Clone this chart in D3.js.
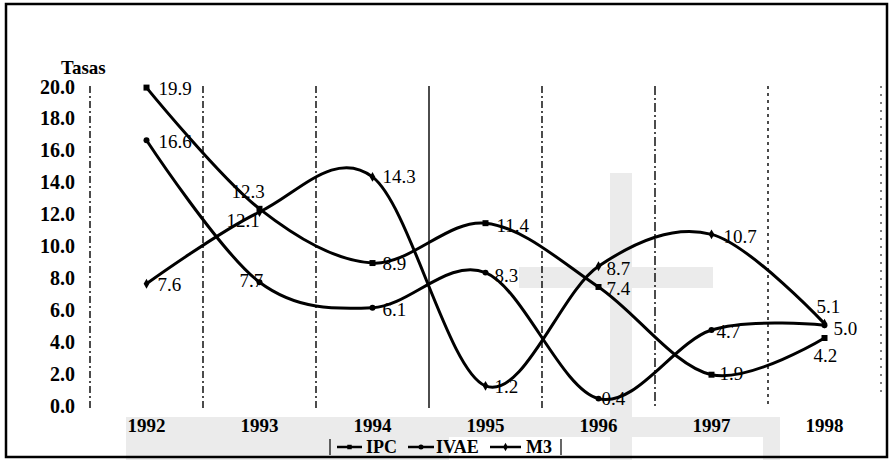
<!DOCTYPE html>
<html>
<head>
<meta charset="utf-8">
<script src="https://cdn.jsdelivr.net/npm/d3@7"></script>
<style>
  html, body { margin: 0; padding: 0; background: #fff; }
  svg { display: block; }
  text { font-family: "Liberation Serif", "Times New Roman", serif; fill: #000; }
</style>
</head>
<body>
<svg id="chart" width="889" height="460"></svg>
<script>
// Annual rates, 1992-1998
const years = ["1992", "1993", "1994", "1995", "1996", "1997", "1998"];
const ipc  = [19.9, 12.3, 8.9, 11.4, 7.4, 1.9, 4.2];
const ivae = [16.6, 7.7, 6.1, 8.3, 0.4, 4.7, 5.0];
const m3   = [7.6, 12.1, 14.3, 1.2, 8.7, 10.7, 5.1];
const seriesNames = ["IPC", "IVAE", "M3"];
const yTicks = [0, 2, 4, 6, 8, 10, 12, 14, 16, 18, 20];

// Label offsets (dx, dy from the point) for each series
const labelOffsets = {
  IPC:  [[12, 7], [-28, -11], [10, 7], [11, 9], [8, 8], [8, 5], [-11, 24]],
  IVAE: [[12, 8], [-20, 5], [10, 8], [9, 9], [3, 6], [5, 8], [9, 10]],
  M3:   [[11, 7], [-33, 15], [10, 6], [9, 7], [8, 9], [12, 9], [-8, -11]]
};

const svg = d3.select("#chart");

// Light background patches
const bg = svg.append("g").attr("fill", "#ebebeb");
bg.append("rect").attr("x", 126).attr("y", 417).attr("width", 654).attr("height", 43);
bg.append("rect").attr("x", 449).attr("y", 437).attr("width", 314).attr("height", 23).attr("fill", "#fff");
bg.append("rect").attr("x", 610).attr("y", 173).attr("width", 22).attr("height", 287);
bg.append("rect").attr("x", 519).attr("y", 267).attr("width", 194).attr("height", 21);

// Frame
svg.append("rect").attr("x", 6).attr("y", 4).attr("width", 881).attr("height", 453)
  .attr("fill", "none").attr("stroke", "#000").attr("stroke-width", 2.5);

const x = d3.scaleBand().domain(years).range([90, 881]);
const y = d3.scaleLinear().domain([0, 20]).range([405, 86]);
const cx = d => x(d) + x.bandwidth() / 2;

// Vertical separators between years
const bounds = years.map(d => x(d)).concat([x.range()[1]]);
const dashes = ["7,3,2,3", "7,3,2,3", "7,3,2,3", null, "7,3,2,3", "9,3,2,3", "3,4", "2,6"];
svg.append("g").selectAll("line").data(bounds).join("line")
  .attr("x1", d => d).attr("x2", d => d)
  .attr("y1", y(20)).attr("y2", (d, i) => i === bounds.length - 1 ? 396 : 408)
  .attr("stroke", "#000")
  .attr("stroke-width", (d, i) => i === bounds.length - 1 ? 1 : 1.4)
  .attr("stroke-dasharray", (d, i) => dashes[i]);

// Y axis labels
const yAxis = svg.append("g").attr("transform", "translate(90,0)")
  .call(d3.axisLeft(y).tickValues(yTicks).tickFormat(d3.format(".1f")).tickSize(0).tickPadding(15));
yAxis.select(".domain").remove();
yAxis.selectAll("text")
  .attr("font-family", "Liberation Serif").attr("font-size", 20).attr("font-weight", "bold")
  .attr("dy", "0.35em");

svg.append("text").attr("x", 61).attr("y", 74)
  .attr("font-size", 19).attr("font-weight", "bold").text("Tasas");

// X axis labels
const xAxis = svg.append("g").attr("transform", "translate(0,405)")
  .call(d3.axisBottom(x).tickSize(0).tickPadding(14));
xAxis.select(".domain").remove();
xAxis.selectAll("text")
  .attr("font-family", "Liberation Serif").attr("font-size", 19).attr("font-weight", "bold");

// Series
const series = [
  { name: "IPC", values: ipc, marker: "square" },
  { name: "IVAE", values: ivae, marker: "circle" },
  { name: "M3", values: m3, marker: "diamond" }
];

const line = d3.line()
  .x((d, i) => cx(years[i]))
  .y(d => y(d))
  .curve(d3.curveCardinal.tension(0));

const symbolType = { square: d3.symbolSquare, circle: d3.symbolCircle, diamond: d3.symbolDiamond };

series.forEach(s => {
  const g = svg.append("g");
  g.append("path").attr("d", line(s.values))
    .attr("fill", "none").attr("stroke", "#000").attr("stroke-width", 3);
  g.selectAll("path.m").data(s.values).join("path").attr("class", "m")
    .attr("transform", (d, i) => `translate(${cx(years[i])},${y(d)})`)
    .attr("d", d3.symbol().type(symbolType[s.marker]).size(s.marker === "square" ? 36 : 28))
    .attr("fill", "#000");
  g.selectAll("text").data(s.values).join("text")
    .attr("x", (d, i) => cx(years[i]) + labelOffsets[s.name][i][0])
    .attr("y", (d, i) => y(d) + labelOffsets[s.name][i][1])
    .attr("font-size", 19)
    .text(d => d3.format(".1f")(d));
});

// Legend
const legend = svg.append("g").attr("transform", "translate(0,453)");
legend.append("line").attr("x1", 330).attr("x2", 330).attr("y1", -14).attr("y2", 2)
  .attr("stroke", "#000").attr("stroke-width", 1.2);
legend.append("line").attr("x1", 561).attr("x2", 561).attr("y1", -14).attr("y2", 2)
  .attr("stroke", "#000").attr("stroke-width", 1.2);
const legendLine = [[337, 362], [408, 434], [490, 521]];
const legendText = [366, 436, 526];
const legendItems = legend.selectAll("g.item").data(series).join("g").attr("class", "item");
legendItems.append("line")
  .attr("x1", (d, i) => legendLine[i][0]).attr("x2", (d, i) => legendLine[i][1])
  .attr("y1", -6).attr("y2", -6)
  .attr("stroke", "#000").attr("stroke-width", 2.5);
legendItems.append("path")
  .attr("transform", (d, i) => `translate(${(legendLine[i][0] + legendLine[i][1]) / 2},-6)`)
  .attr("d", d => d3.symbol().type(symbolType[d.marker]).size(20)())
  .attr("fill", "#000");
legendItems.append("text").attr("x", (d, i) => legendText[i]).attr("y", 0)
  .attr("font-size", 18).attr("font-weight", "bold").text(d => d.name);
</script>
</body>
</html>
